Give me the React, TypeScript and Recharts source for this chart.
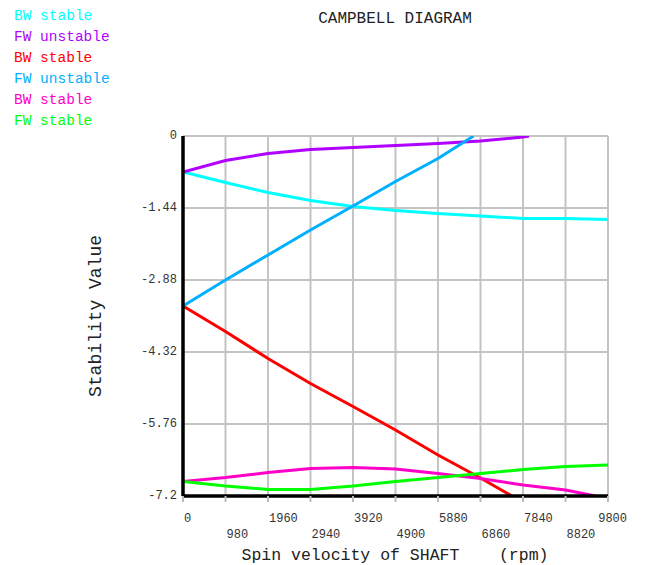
import { LineChart, Line, XAxis, YAxis, CartesianGrid } from 'recharts';

// spin velocity ticks (rpm)
const rpmTicks = [0, 980, 1960, 2940, 3920, 4900, 5880, 6860, 7840, 8820, 9800];
const stabTicks = [-7.2, -5.76, -4.32, -2.88, -1.44, 0];
const stabLabels = ['-7.2', '-5.76', '-4.32', '-2.88', '-1.44', '0'];

// BW stable (cyan)
const bw1X = [0, 980, 1960, 2940, 3920, 4900, 5880, 6860, 7840, 8820, 9800];
const bw1Y = [-0.72, -0.93, -1.13, -1.29, -1.41, -1.49, -1.55, -1.6, -1.65, -1.65, -1.67];

// FW unstable (purple)
const fw1X = [0, 980, 1960, 2940, 3920, 4900, 5880, 6860, 7840, 7980];
const fw1Y = [-0.72, -0.49, -0.35, -0.27, -0.23, -0.19, -0.15, -0.1, -0.02, 0];

// BW stable (red)
const bw2X = [0, 980, 1960, 2940, 3920, 4900, 5880, 6860, 7585];
const bw2Y = [-3.4, -3.91, -4.45, -4.95, -5.41, -5.88, -6.38, -6.84, -7.2];

// FW unstable (light blue)
const fw2X = [0, 980, 1960, 2940, 3920, 4900, 5880, 6700];
const fw2Y = [-3.4, -2.88, -2.38, -1.88, -1.4, -0.91, -0.45, 0];

// BW stable (magenta)
const bw3X = [0, 980, 1960, 2940, 3920, 4900, 5880, 6860, 7840, 8820, 9510];
const bw3Y = [-6.91, -6.83, -6.73, -6.65, -6.63, -6.66, -6.75, -6.85, -6.98, -7.08, -7.2];

// FW stable (green)
const fw3X = [0, 980, 1960, 2940, 3920, 4900, 5880, 6860, 7840, 8820, 9800];
const fw3Y = [-6.91, -7.0, -7.07, -7.07, -7.0, -6.91, -6.83, -6.75, -6.67, -6.61, -6.58];

const toPoints = (xs: number[], ys: number[]) => xs.map((x, i) => ({ x, y: ys[i] }));

const series = [
    { name: 'BW stable', color: '#00ffff', data: toPoints(bw1X, bw1Y) },
    { name: 'FW unstable', color: '#b000ff', data: toPoints(fw1X, fw1Y) },
    { name: 'BW stable', color: '#ff0000', data: toPoints(bw2X, bw2Y) },
    { name: 'FW unstable', color: '#00b0ff', data: toPoints(fw2X, fw2Y) },
    { name: 'BW stable', color: '#ff00c8', data: toPoints(bw3X, bw3Y) },
    { name: 'FW stable', color: '#00ff00', data: toPoints(fw3X, fw3Y) },
];

const FONT = '"Liberation Mono", "DejaVu Sans Mono", monospace';

const XTick = ({ x, y, payload }: any) => {
    const idx = rpmTicks.indexOf(payload.value);
    const last = idx === rpmTicks.length - 1;
    return (
        <text
            x={last ? x + 19 : x + 1}
            y={y + (idx % 2 === 0 ? 17 : 33)}
            textAnchor={last ? 'end' : 'start'}
            dominantBaseline="central"
            fontFamily={FONT}
            fontSize={12}
            fill="#333"
        >
            {payload.value}
        </text>
    );
};

const YTick = ({ x, y, payload }: any) => {
    const idx = stabTicks.indexOf(payload.value);
    return (
        <text x={x} y={y} textAnchor="end" dominantBaseline="central" fontFamily={FONT} fontSize={12} fill="#333">
            {stabLabels[idx]}
        </text>
    );
};

export default function App() {
    return (
        <div style={{ position: 'absolute', left: 0, top: 0, width: 651, height: 565, background: '#fff' }}>
            <LineChart width={651} height={565} margin={{ top: 136, right: 43, bottom: 9, left: 0 }}>
                <CartesianGrid stroke="#c4c4c4" strokeWidth={2} />
                <XAxis
                    type="number"
                    dataKey="x"
                    domain={[0, 9800]}
                    ticks={rpmTicks}
                    height={60}
                    tick={<XTick />}
                    tickSize={6}
                    tickMargin={0}
                    tickLine={{ stroke: '#bbb', strokeWidth: 2 }}
                    axisLine={{ stroke: '#000', strokeWidth: 3.5 }}
                    allowDataOverflow
                />
                <YAxis
                    type="number"
                    domain={[-7.2, 0]}
                    ticks={stabTicks}
                    width={183}
                    tick={<YTick />}
                    tickSize={0}
                    tickMargin={6}
                    tickLine={false}
                    axisLine={{ stroke: '#000', strokeWidth: 3.5 }}
                    allowDataOverflow
                />
                {series.map((s, i) => (
                    <Line
                        key={i}
                        data={s.data}
                        dataKey="y"
                        type="linear"
                        stroke={s.color}
                        strokeWidth={3}
                        dot={false}
                        isAnimationActive={false}
                    />
                ))}
            </LineChart>
            <svg width={651} height={565} style={{ position: 'absolute', left: 0, top: 0, pointerEvents: 'none' }}>
                {series.map((s, i) => (
                    <text key={i} x={14} y={16 + i * 21} dominantBaseline="central" fontFamily={FONT} fontSize={14.5} fill={s.color}>
                        {s.name}
                    </text>
                ))}
                <text x={395} y={19} textAnchor="middle" dominantBaseline="central" fontFamily={FONT} fontSize={16} fill="#222">
                    CAMPBELL DIAGRAM
                </text>
                <text
                    x={96}
                    y={316}
                    textAnchor="middle"
                    dominantBaseline="central"
                    fontFamily={FONT}
                    fontSize={18}
                    fill="#222"
                    transform="rotate(-90 96 316)"
                >
                    Stability Value
                </text>
                <text
                    x={395}
                    y={555}
                    textAnchor="middle"
                    dominantBaseline="central"
                    fontFamily={FONT}
                    fontSize={16.5}
                    fill="#222"
                    style={{ whiteSpace: 'pre' }}
                >
                    {'Spin velocity of SHAFT    (rpm)'}
                </text>
            </svg>
        </div>
    );
}
